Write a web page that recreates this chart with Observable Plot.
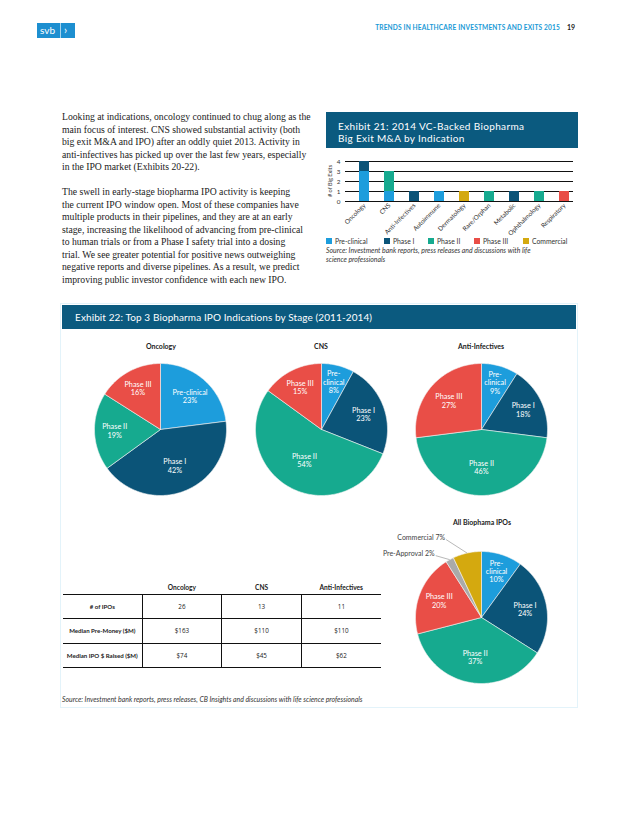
<!DOCTYPE html>
<html><head><meta charset="utf-8">
<script src="https://cdn.jsdelivr.net/npm/d3@7"></script>
<script src="https://cdn.jsdelivr.net/npm/@observablehq/plot@0.6"></script>
<style>
html,body{margin:0;padding:0;background:#fff;}
body{width:638px;height:826px;position:relative;overflow:hidden;font-family:Lato,"Open Sans",sans-serif;color:#222;}
.a{position:absolute;white-space:nowrap;}
.body{font-family:"Liberation Serif",serif;font-size:9.7px;line-height:12.5px;color:#222;}
.bar{background:#0b5a7f;color:#fff;}
.ttl{font-family:Lato,sans-serif;font-size:7px;font-weight:700;color:#222;transform:translateX(-50%);}
.lg{font-size:6.8px;color:#333;display:flex;align-items:center;}
.lg i{display:inline-block;width:6px;height:6px;margin-right:3px;}
.src{font-style:italic;font-size:6.9px;color:#333;}
table{border-collapse:collapse;font-size:6.6px;color:#222;font-family:Lato,sans-serif;}
td{text-align:center;padding:0;}
td.h{font-weight:700;font-size:6.1px;}
td.v{font-family:"Open Sans",sans-serif;font-size:6.3px;}
</style></head><body>
<script>
// ---------- data ----------
const headerTitle = "TRENDS IN HEALTHCARE INVESTMENTS AND EXITS 2015";
const pageNumber = "19";
const para1 = [
  "Looking at indications, oncology continued to chug along as the",
  "main focus of interest. CNS showed substantial activity (both",
  "big exit M&A and IPO) after an oddly quiet 2013. Activity in",
  "anti-infectives has picked up over the last few years, especially",
  "in the IPO market (Exhibits 20-22)."
];
const para2 = [
  "The swell in early-stage biopharma IPO activity is keeping",
  "the current IPO window open. Most of these companies have",
  "multiple products in their pipelines, and they are at an early",
  "stage, increasing the likelihood of advancing from pre-clinical",
  "to human trials or from a Phase I safety trial into a dosing",
  "trial. We see greater potential for positive news outweighing",
  "negative reports and diverse pipelines. As a result, we predict",
  "improving public investor confidence with each new IPO."
];

// Exhibit 21
const barCategories = ["Oncology","CNS","Anti-Infectives","Autoimmune","Dermatology","Rare/Orphan","Metabolic","Ophthalmology","Respiratory"];
const stages = ["Pre-clinical","Phase I","Phase II","Phase III","Commercial"];
const stageColors = ["#1d9ddc","#0b5478","#16aa8f","#e94e47","#d4a90f"];
const preClinicalExits = [3,1,0,1,0,0,0,0,0];
const phaseIExits      = [1,0,1,0,0,0,1,0,0];
const phaseIIExits     = [0,2,0,0,0,1,0,1,0];
const phaseIIIExits    = [0,0,0,0,0,0,0,0,1];
const commercialExits  = [0,0,0,0,1,0,0,0,0];
const yTicks = [0,1,2,3,4];

// Exhibit 22
const pieStages = ["Pre-clinical","Phase I","Phase II","Phase III"];
const oncologyShares = [23,42,19,16];
const cnsShares = [8,23,54,15];
const antiInfectiveShares = [9,18,46,27];
const allStages = ["Pre-clinical","Phase I","Phase II","Phase III","Pre-Approval","Commercial"];
const allShares = [10,24,37,20,2,7];
const allColors = ["#1d9ddc","#0b5478","#16aa8f","#e94e47","#aaaaaa","#d4a90f"];

const tableColumns = ["Oncology","CNS","Anti-Infectives"];
const tableRows = ["# of IPOs","Median Pre-Money ($M)","Median IPO $ Raised ($M)"];
const ipoCounts = ["26","13","11"];
const medianPreMoney = ["$163","$110","$110"];
const medianRaised = ["$74","$45","$62"];

// ---------- helpers ----------
const body = document.body;
function div(cls, css, html){const d=document.createElement("div");d.className=cls;d.style.cssText=css;d.innerHTML=html;body.appendChild(d);return d;}
function esc(s){return s.replace(/&/g,"&amp;").replace(/</g,"&lt;");}

// header
div("a","left:37px;top:23px;width:38px;height:15px;background:#1d8fd0;color:#fff;font-family:Lato,sans-serif;font-size:10px;line-height:15px;",
  '<span style="position:absolute;left:3px;top:0">svb</span><span style="position:absolute;left:23px;top:0;width:1px;height:15px;background:#fff;opacity:.6"></span><span style="position:absolute;left:27px;top:-1px;font-size:11px;">&#x203A;</span>');
div("a","right:78px;top:22px;font-size:6.6px;line-height:10px;font-weight:700;color:#1a9ad6;letter-spacing:0.15px;", esc(headerTitle));
div("a","left:567px;top:22px;font-size:7px;line-height:10px;font-weight:700;color:#222;", pageNumber);

// paragraphs
div("a body","left:62px;top:111px;", para1.map(esc).join("<br>"));
div("a body","left:62px;top:186px;", para2.map(esc).join("<br>"));

// Exhibit 21 header
div("a bar","left:326px;top:112px;width:252px;height:36px;", "");
div("a","left:338px;top:119.5px;color:#fff;font-size:10px;line-height:12px;letter-spacing:0.35px;", "Exhibit 21: 2014 VC-Backed Biopharma<br>Big Exit M&amp;A by Indication");

// bar chart
const exitRows = [];
[preClinicalExits, phaseIExits, phaseIIExits, phaseIIIExits, commercialExits].forEach((vals, s) =>
  barCategories.forEach((c, i) => { if (vals[i]) exitRows.push({category: c, stage: stages[s], count: vals[i]}); }));
const barPlot = Plot.plot({
  width: 258, height: 90, marginTop: 11, marginBottom: 39, marginLeft: 23, marginRight: 7,
  style: {fontFamily: "Lato, sans-serif", fontSize: "6.3px", color: "#333", background: "transparent", overflow: "visible"},
  x: {domain: barCategories, paddingInner: 0.6, paddingOuter: 0.29, align: 0.8, label: null, tickRotate: -45, tickSize: 0, tickPadding: 3},
  y: {domain: [0, 4], ticks: yTicks, label: null, tickSize: 0, tickPadding: 5, tickFormat: d3.format("d")},
  color: {domain: stages, range: stageColors},
  marks: [
    Plot.ruleY(yTicks, {stroke: "#111", strokeWidth: 1}),
    Plot.barY(exitRows, {x: "category", y: "count", fill: "stage"})
  ]
});
const bp = div("a","left:322px;top:150px;","");
bp.appendChild(barPlot);
div("a","font-size:5.6px;line-height:7px;color:#333;transform:translate(-50%,-50%) rotate(-90deg);transform-origin:50% 50%;left:329px;top:181px;", "# of Big Exits");

// legend
const legendX = [326, 384, 428, 474, 523];
stages.forEach((s, i) => div("a lg", `left:${legendX[i]}px;top:236px;height:10px;`, `<i style="background:${stageColors[i]}"></i>${esc(s)}`));
div("a src","left:326px;top:246px;line-height:8.6px;", "Source: Investment bank reports, press releases and discussions with life<br>science professionals");

// Exhibit 22 frame + header
div("a","left:60px;top:303px;width:518px;height:405px;border:1px solid #e3f3fa;box-sizing:border-box;","");
div("a bar","left:62px;top:305px;width:514px;height:24px;", "");
div("a","left:75px;top:311px;color:#fff;font-size:10px;line-height:12px;letter-spacing:0.1px;", "Exhibit 22: Top 3 Biopharma IPO Indications by Stage (2011-2014)");

// pie builder
function pie(names, shares, colors, labels, cx, cy, ext, outside) {
  const R = 66;
  const total = d3.sum(shares);
  const poly = [], inLab = [], outLab = [];
  let acc = 0;
  shares.forEach((v, i) => {
    const a0 = acc / total * 2 * Math.PI; acc += v; const a1 = acc / total * 2 * Math.PI;
    const n = Math.max(2, Math.ceil((a1 - a0) / (Math.PI / 180)));
    poly.push({k: i, stage: names[i], x: 0, y: 0});
    for (let j = 0; j <= n; j++) { const a = a0 + (a1 - a0) * j / n; poly.push({k: i, stage: names[i], x: Math.sin(a), y: Math.cos(a)}); }
    poly.push({k: i, stage: names[i], x: 0, y: 0});
    const am = (a0 + a1) / 2, f = 0.78 - 0.45 * v / total;
    if (outside && outside[names[i]]) {
      const o = outside[names[i]];
      const ex = Math.sin(am), ey = Math.cos(am);
      outLab.push({x1: ex, y1: ey, x2: ex + o[0] / R, y2: ey - o[1] / R, text: labels[i] + " " + v + "%"});
    } else {
      inLab.push({x: f * Math.sin(am), y: f * Math.cos(am), text: labels[i] + "\n" + v + "%"});
    }
  });
  const [l, r, t, b] = ext;
  const p = Plot.plot({
    width: l + r, height: t + b, margin: 0,
    style: {fontFamily: "Lato, sans-serif", background: "transparent", overflow: "visible"},
    x: {domain: [-l / R, r / R], axis: null},
    y: {domain: [-b / R, t / R], axis: null},
    color: {domain: names, range: colors},
    marks: [
      Plot.line(poly, {x: "x", y: "y", z: "k", fill: "stage", stroke: "#f4f4f4", strokeWidth: 0.6, curve: "linear"}),
      Plot.text(inLab, {x: "x", y: "y", text: "text", fill: "#fff", fontSize: 7.3, lineHeight: 1.15}),
      Plot.link(outLab, {x1: "x1", y1: "y1", x2: "x2", y2: "y2", stroke: "#9a9a9a", strokeWidth: 0.7}),
      Plot.text(outLab, {x: "x2", y: "y2", text: "text", fill: "#444", fontSize: 7, textAnchor: "end", dx: -1, dy: -2})
    ]
  });
  const d = div("a", `left:${cx - l}px;top:${cy - t}px;`, "");
  d.appendChild(p);
}
const smallPreLabel = "Pre-\nclinical";
pie(pieStages, oncologyShares, stageColors.slice(0,4), ["Pre-clinical","Phase I","Phase II","Phase III"], 160, 429.3, [75,75,75,75]);
pie(pieStages, cnsShares, stageColors.slice(0,4), [smallPreLabel,"Phase I","Phase II","Phase III"], 320.7, 429.3, [75,75,75,75]);
pie(pieStages, antiInfectiveShares, stageColors.slice(0,4), [smallPreLabel,"Phase I","Phase II","Phase III"], 480.7, 429.3, [75,75,75,75]);
pie(allStages, allShares, allColors, [smallPreLabel,"Phase I","Phase II","Phase III","Pre-Approval","Commercial"], 481, 617.3, [125,75,90,75],
    {"Commercial": [-21, -13.5], "Pre-Approval": [-14, -4]});

// pie titles
div("a ttl","left:161px;top:341px;line-height:10px;", "Oncology");
div("a ttl","left:321px;top:341px;line-height:10px;", "CNS");
div("a ttl","left:481px;top:341px;line-height:10px;", "Anti-Infectives");
div("a ttl","left:482px;top:517px;line-height:10px;", "All Biophama IPOs");

// table
const tbl = document.createElement("table");
tbl.className = "a";
tbl.style.cssText = "left:63px;top:583px;width:318px;table-layout:fixed;";
let html = '<tr style="height:11px"><td style="width:79px"></td>' + tableColumns.map(c => `<td style="width:79.5px;font-weight:700;vertical-align:top">${esc(c)}</td>`).join("") + "</tr>";
[ipoCounts, medianPreMoney, medianRaised].forEach((vals, ri) => {
  html += `<tr style="height:24.5px;border-top:${ri === 0 ? 1.3 : 1}px solid #111;border-bottom:1px solid #111"><td class="h">${esc(tableRows[ri])}</td>` +
    vals.map(v => `<td class="v" style="border-left:1px solid #111">${esc(v)}</td>`).join("") + "</tr>";
});
tbl.innerHTML = html;
body.appendChild(tbl);

// bottom source
div("a src","left:62px;top:695px;line-height:9px;", "Source: Investment bank reports, press releases, CB Insights and discussions with life science professionals");
</script>
</body></html>
